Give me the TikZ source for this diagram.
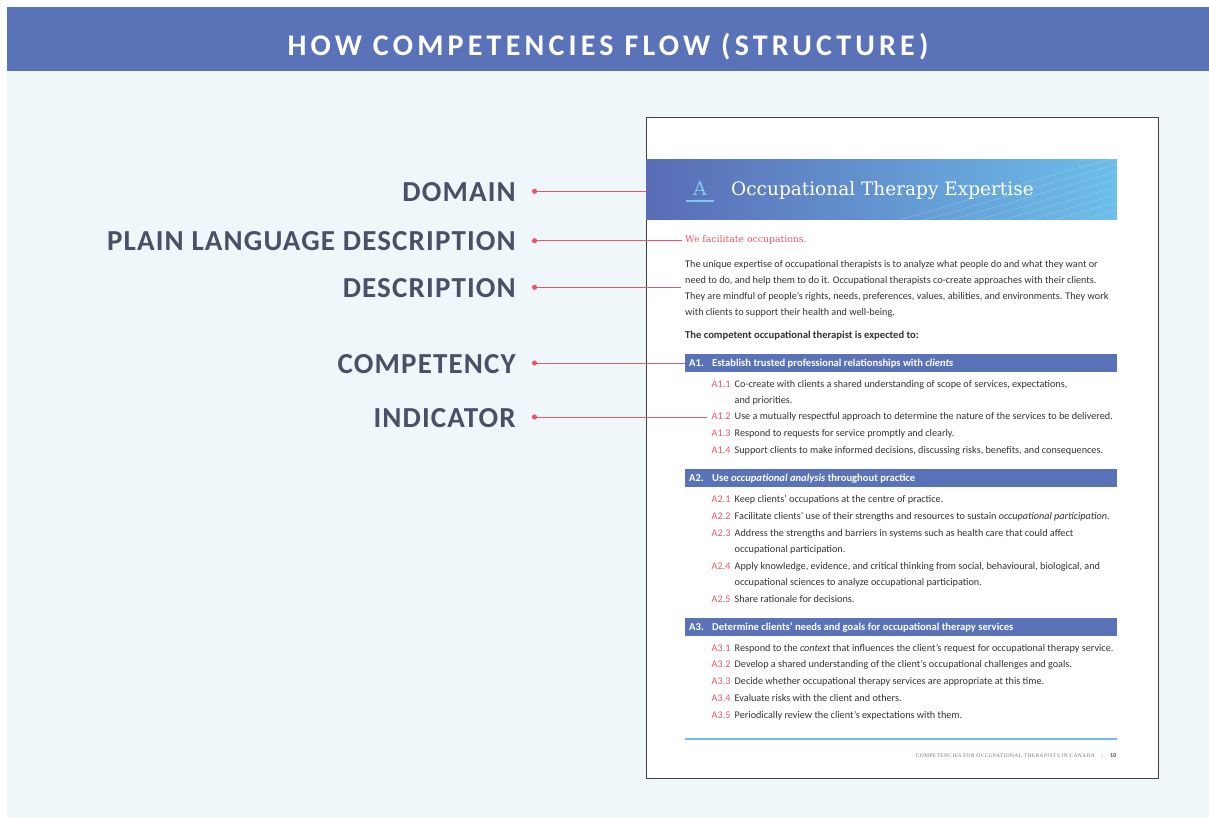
\documentclass[tikz,border=0pt]{standalone}
\usepackage{fontspec}
\setmainfont{Carlito}
\newfontfamily\serifA{Liberation Serif}
\newfontfamily\serifB{DejaVu Serif}
\newfontfamily\titlefont[LetterSpace=14]{Carlito}
\newfontfamily\labfont[LetterSpace=4]{Carlito}
\newfontfamily\footfont[LetterSpace=8]{Liberation Serif}
\definecolor{hdr}{HTML}{5A72B8}
\definecolor{panel}{HTML}{EFF7FA}
\definecolor{lbl}{HTML}{4A5066}
\definecolor{pinkc}{HTML}{E8566A}
\definecolor{bodyc}{HTML}{333333}
\definecolor{lblue}{HTML}{6CBDE9}
\definecolor{gradL}{HTML}{5A6CB6}
\definecolor{gradR}{HTML}{6CBEEA}
\definecolor{aletter}{HTML}{80C8F0}
\begin{document}
\begin{tikzpicture}[x=1pt,y=-1pt,
  lab/.style={font=\fontsize{29}{29}\labfont\bfseries, text=lbl, anchor=base east, inner sep=0pt},
  conn/.style={draw=pinkc, line width=1pt},
  body/.style={font=\fontsize{10.2}{12}\selectfont, text=bodyc, anchor=base west, inner sep=0pt},
  indlab/.style={body, text=pinkc},
  cbar/.style={fill=hdr, draw=none},
  ctext/.style={font=\fontsize{10.6}{12}\selectfont\bfseries, text=white, anchor=base west, inner sep=0pt}
]
\useasboundingbox (0,0) rectangle (1209,818);
\fill[white] (0,0) rectangle (1209,818);
\fill[panel] (7,71) rectangle (1209,818);
\fill[hdr] (7,7) rectangle (1209,71);
\node[anchor=base, inner sep=0pt, text=white, font=\fontsize{30}{30}\titlefont\bfseries] (title) at (608,56) {HOW COMPETENCIES FLOW (STRUCTURE)};

% page
\node[draw=black!75, line width=1.1pt, fill=white, minimum width=512pt, minimum height=661pt, anchor=north west, inner sep=0pt] (page) at (646,117) {};

% banner
\shade[left color=gradL, right color=gradR] (646,160) rectangle (1117,219.5);
\node[inner sep=0pt, minimum width=471pt, minimum height=59.5pt, anchor=north west] (banner) at (646,160) {};
\begin{scope}
\clip (646,160) rectangle (1117,219.5);
\foreach \i in {0,...,8}
  \draw[white, opacity=0.16, line width=0.8pt] (860+\i*26,230) .. controls (960+\i*26,205) and (1040+\i*26,175) .. (1150+\i*26,150);
\end{scope}
\node[anchor=base, inner sep=0pt, text=aletter, font=\fontsize{19}{20}\serifB] (aletter) at (700,196) {A};
\draw[aletter, line width=1.2pt] (685.5,201) -- (714,201);
\node[anchor=base west, inner sep=0pt, text=white, font=\fontsize{18.5}{20}\serifB] (dtitle) at (731,196) {Occupational Therapy Expertise};

% plain language
\node[anchor=base west, inner sep=0pt, text=pinkc, font=\fontsize{9.3}{12}\serifB] (plain) at (685,243) {We facilitate occupations.};

% description
\node[body] (d1) at (685,267) {The unique expertise of occupational therapists is to analyze what people do and what they want or};
\node[body] (d2) at (685,283) {need to do, and help them to do it. Occupational therapists co-create approaches with their clients.};
\node[body] (d3) at (685,299) {They are mindful of people’s rights, needs, preferences, values, abilities, and environments. They work};
\node[body] (d4) at (685,315) {with clients to support their health and well-being.};
\node[body, font=\fontsize{10.6}{12}\selectfont\bfseries] (exp) at (685,338) {The competent occupational therapist is expected to:};

% competency A1
\node[cbar, anchor=north west, minimum width=432pt, minimum height=18.5pt, inner sep=0pt] (A1) at (685,353.3) {};
\node[ctext] (A1n) at (689,366.5) {A1.};
\node[ctext] (A1t) at (712,366.5) {Establish trusted professional relationships with \textit{clients}};
\node[indlab] (i11) at (711.5,387) {A1.1};
\node[body] (t11) at (734.5,387) {Co-create with clients a shared understanding of scope of services, expectations,};
\node[body] (t11b) at (734.5,403) {and priorities.};
\node[indlab] (i12) at (711.5,419) {A1.2};
\node[body] (t12) at (734.5,419) {Use a mutually respectful approach to determine the nature of the services to be delivered.};
\node[indlab] (i13) at (711.5,436) {A1.3};
\node[body] (t13) at (734.5,436) {Respond to requests for service promptly and clearly.};
\node[indlab] (i14) at (711.5,453) {A1.4};
\node[body] (t14) at (734.5,453) {Support clients to make informed decisions, discussing risks, benefits, and consequences.};

% competency A2
\node[cbar, anchor=north west, minimum width=432pt, minimum height=18pt, inner sep=0pt] (A2) at (685,469) {};
\node[ctext] (A2n) at (689,481.5) {A2.};
\node[ctext] (A2t) at (712,481.5) {Use \textit{occupational analysis} throughout practice};
\node[indlab] (i21) at (711.5,502) {A2.1};
\node[body] (t21) at (734.5,502) {Keep clients’ occupations at the centre of practice.};
\node[indlab] (i22) at (711.5,519) {A2.2};
\node[body] (t22) at (734.5,519) {Facilitate clients’ use of their strengths and resources to sustain \textit{occupational participation}.};
\node[indlab] (i23) at (711.5,536) {A2.3};
\node[body] (t23) at (734.5,536) {Address the strengths and barriers in systems such as health care that could affect};
\node[body] (t23b) at (734.5,552) {occupational participation.};
\node[indlab] (i24) at (711.5,569) {A2.4};
\node[body] (t24) at (734.5,569) {Apply knowledge, evidence, and critical thinking from social, behavioural, biological, and};
\node[body] (t24b) at (734.5,585) {occupational sciences to analyze occupational participation.};
\node[indlab] (i25) at (711.5,602) {A2.5};
\node[body] (t25) at (734.5,602) {Share rationale for decisions.};

% competency A3
\node[cbar, anchor=north west, minimum width=432pt, minimum height=18.5pt, inner sep=0pt] (A3) at (685,617.3) {};
\node[ctext] (A3n) at (689,630.5) {A3.};
\node[ctext] (A3t) at (712,630.5) {Determine clients’ needs and goals for occupational therapy services};
\node[indlab] (i31) at (711.5,651) {A3.1};
\node[body] (t31) at (734.5,651) {Respond to the \textit{context} that influences the client’s request for occupational therapy service.};
\node[indlab] (i32) at (711.5,667) {A3.2};
\node[body] (t32) at (734.5,667) {Develop a shared understanding of the client’s occupational challenges and goals.};
\node[indlab] (i33) at (711.5,684) {A3.3};
\node[body] (t33) at (734.5,684) {Decide whether occupational therapy services are appropriate at this time.};
\node[indlab] (i34) at (711.5,701) {A3.4};
\node[body] (t34) at (734.5,701) {Evaluate risks with the client and others.};
\node[indlab] (i35) at (711.5,718) {A3.5};
\node[body] (t35) at (734.5,718) {Periodically review the client’s expectations with them.};

% footer
\draw[lblue, line width=2pt] (685,739) -- (1117,739);
\node[anchor=base east, inner sep=0pt, font=\fontsize{6}{6}\selectfont\bfseries, text=black!70] (pgnum) at (1116.5,757) {10};
\node[anchor=base east, inner sep=0pt, font=\fontsize{5.5}{6}\serifA, text=black!45] (bar) at (1103,757) {|};
\node[anchor=base east, inner sep=0pt, font=\fontsize{5.4}{6}\footfont, text=black!55] (foot) at (1095,757) {COMPETENCIES FOR OCCUPATIONAL THERAPISTS IN CANADA};

% labels
\node[lab] (Ldom) at (516,201.5) {DOMAIN};
\node[lab] (Lpl) at (516,251) {PLAIN LANGUAGE DESCRIPTION};
\node[lab] (Ldes) at (516,297) {DESCRIPTION};
\node[lab] (Lcom) at (516,373) {COMPETENCY};
\node[lab] (Lind) at (516,427) {INDICATOR};

\coordinate (pDom) at (534.5,191.3);
\coordinate (pPl) at (534.5,240.7);
\coordinate (pDes) at (534.5,287.3);
\coordinate (pCom) at (534.5,363);
\coordinate (pInd) at (534.5,417);

\coordinate (eDes) at (681,287.3);
\draw[conn] (pDom) -- (banner.west |- pDom);
\draw[conn] (pPl) -- ([xshift=-3pt]plain.west |- pPl);
\draw[conn] (pDes) -- (eDes);
\draw[conn] (pCom) -- (A1.west |- pCom);
\draw[conn] (pInd) -- ([xshift=-4.5pt]i12.west |- pInd);
\foreach \p in {pDom,pPl,pDes,pCom,pInd} \fill[pinkc] (\p) circle (2.6pt);
\end{tikzpicture}
\end{document}
